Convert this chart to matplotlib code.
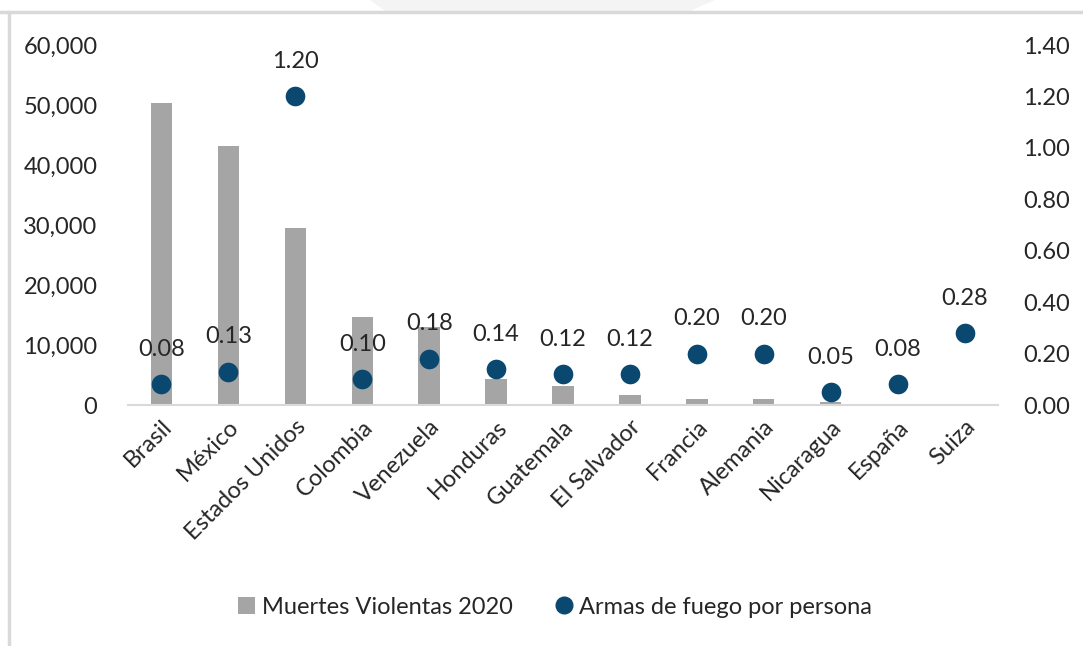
#!/usr/bin/env python3
"""Muertes violentas 2020 vs. armas de fuego por persona (bars + dots on twin axis)."""

import matplotlib
matplotlib.use("Agg")
import matplotlib.pyplot as plt
from matplotlib.lines import Line2D
from matplotlib.patches import Patch, Polygon
from matplotlib.ticker import FuncFormatter

paises = [
    "Brasil", "México", "Estados Unidos", "Colombia", "Venezuela", "Honduras",
    "Guatemala", "El Salvador", "Francia", "Alemania", "Nicaragua", "España", "Suiza",
]
muertes_2020 = [50300, 43100, 29500, 14600, 13000, 4300, 3200, 1700, 950, 950, 450, 0, 0]
armas_por_persona = [0.08, 0.13, 1.20, 0.10, 0.18, 0.14, 0.12, 0.12, 0.20, 0.20, 0.05, 0.08, 0.28]

left_ticks = [0, 10000, 20000, 30000, 40000, 50000, 60000]
right_ticks = [0.0, 0.2, 0.4, 0.6, 0.8, 1.0, 1.2, 1.4]

BAR_COLOR = "#a5a5a5"
DOT_COLOR = "#0b4870"
TEXT_COLOR = "#262626"
FRAME_COLOR = "#d9d9d9"
FS = 17

plt.rcParams["font.family"] = ["Lato", "DejaVu Sans"]

fig = plt.figure(figsize=(10.83, 6.46), dpi=100)
ax = fig.add_axes([128 / 1083, 1 - 405 / 646, 870 / 1083, 360 / 646])
ax2 = ax.twinx()

x = range(len(paises))
ax.bar(x, muertes_2020, width=0.32, color=BAR_COLOR, zorder=2)
ax.set_ylim(0, 60000)
ax.set_xlim(-0.5, len(paises) - 0.5)
ax.set_yticks(left_ticks)
ax.yaxis.set_major_formatter(FuncFormatter(lambda v, _: f"{int(v):,}"))

ax2.scatter(x, armas_por_persona, s=200, color=DOT_COLOR, zorder=3, linewidths=0)
ax2.set_ylim(0, 1.4)
ax2.set_yticks(right_ticks)
ax2.yaxis.set_major_formatter(FuncFormatter(lambda v, _: f"{v:.2f}"))
for i, v in enumerate(armas_por_persona):
    ax2.annotate(f"{v:.2f}", (i, v), xytext=(0, 25), textcoords="offset points",
                 ha="center", va="center", fontsize=FS, color=TEXT_COLOR)

ax.set_xticks(list(x))
ax.set_xticklabels(paises, rotation=45, ha="right", rotation_mode="anchor")

for a in (ax, ax2):
    for s in a.spines.values():
        s.set_visible(False)
    a.tick_params(length=0, labelsize=FS, colors=TEXT_COLOR)
ax.spines["bottom"].set_visible(True)
ax.spines["bottom"].set_color(FRAME_COLOR)
ax.spines["bottom"].set_linewidth(1.5)
ax.tick_params(axis="y", pad=22)
ax.tick_params(axis="x", pad=8)
ax2.tick_params(axis="y", pad=18)

handles = [
    Patch(facecolor=BAR_COLOR, label="Muertes Violentas 2020"),
    Line2D([], [], marker="o", linestyle="", markersize=12, color=DOT_COLOR,
           label="Armas de fuego por persona"),
]
fig.legend(handles=handles, loc="center", bbox_to_anchor=(555 / 1083, 1 - 607 / 646),
           ncol=2, frameon=False, fontsize=FS, handlelength=0.7, handletextpad=0.3,
           columnspacing=1.8, labelcolor=TEXT_COLOR)

# chart frame (only the top and left edges are visible in the crop)
fig.add_artist(Line2D([0, 1], [1 - 12 / 646] * 2, color=FRAME_COLOR, lw=2.5))
fig.add_artist(Line2D([9 / 1083] * 2, [0, 1 - 12 / 646], color=FRAME_COLOR, lw=2.5))
fig.add_artist(Polygon([[370 / 1083, 1], [715 / 1083, 1], [690 / 1083, 1 - 11 / 646],
                        [385 / 1083, 1 - 11 / 646]], closed=True, facecolor="#f4f4f4",
                       edgecolor="none"))

fig.savefig("out.png", dpi=100)
